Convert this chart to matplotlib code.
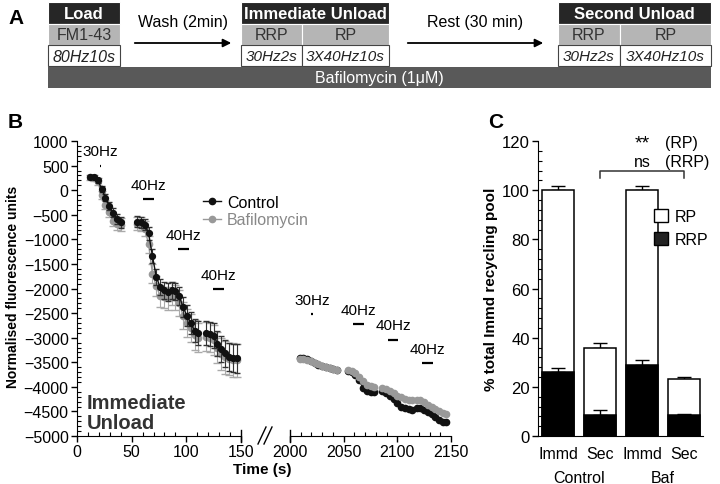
import matplotlib
matplotlib.use('Agg')
import matplotlib.pyplot as plt
from matplotlib.patches import Rectangle, Patch
from matplotlib.lines import Line2D
from matplotlib.ticker import MultipleLocator, AutoMinorLocator
import numpy as np

plt.rcParams['font.family'] = ['Liberation Sans', 'DejaVu Sans']
NARROW = ['Liberation Sans Narrow', 'Liberation Sans', 'DejaVu Sans']

# ---- panel B: immediate unload, one list per imaging segment
imm_t = [[12, 15.5, 19, 22.5, 26, 29.5, 33, 36.5, 40],
         [55, 58.5, 62, 65.5, 69, 72.5, 76, 79.5, 83],
         [86.5, 90, 93.5, 97, 100.5, 104, 107.5, 111],
         [118, 121.5, 125, 128.5, 132, 135.5, 139, 142.5, 146]]
imm_ctrl = [[270, 260, 200, 30, -150, -320, -460, -590, -650],
            [-640, -650, -700, -880, -1340, -1760, -1970, -2040, -2070],
            [-2040, -2060, -2150, -2380, -2550, -2700, -2860, -2900],
            [-2900, -2920, -2960, -3120, -3230, -3320, -3390, -3410, -3420]]
imm_ctrl_err = [[40, 40, 50, 60, 70, 80, 90, 100, 110],
                [110, 110, 120, 130, 150, 160, 170, 170, 180],
                [180, 180, 190, 200, 210, 220, 230, 240],
                [240, 240, 250, 260, 270, 280, 280, 290, 290]]
imm_baf = [[260, 240, 180, -100, -300, -450, -620, -680, -700],
           [-680, -690, -780, -1100, -1700, -1950, -2150, -2180, -2200],
           [-2100, -2180, -2300, -2550, -2700, -2800, -2950, -3000],
           [-2980, -3000, -3050, -3200, -3330, -3400, -3430, -3450, -3460]]
imm_baf_err = [[50, 60, 70, 80, 90, 100, 110, 120, 130],
               [130, 140, 150, 170, 190, 200, 220, 220, 230],
               [240, 250, 260, 270, 280, 290, 300, 300],
               [300, 300, 310, 320, 320, 330, 330, 340, 340]]

# ---- panel B: second unload
sec_t = [[2009, 2012.5, 2016, 2019.5, 2023, 2026.5, 2030, 2033.5, 2037, 2040.5, 2044],
         [2054, 2057.5, 2061, 2064.5, 2068, 2071.5, 2075, 2078.5],
         [2086, 2089.5, 2093, 2096.5, 2100, 2103.5, 2107, 2110.5, 2114],
         [2118, 2121.5, 2125, 2128.5, 2132, 2135.5, 2139, 2142.5, 2145]]
sec_ctrl = [[-3420, -3420, -3440, -3470, -3510, -3550, -3580, -3600, -3620, -3640, -3660],
            [-3670, -3690, -3750, -3870, -4020, -4075, -4100, -4115],
            [-4090, -4130, -4180, -4250, -4330, -4400, -4440, -4460, -4470],
            [-4430, -4440, -4470, -4515, -4560, -4615, -4670, -4710, -4725]]
sec_baf = [[-3430, -3430, -3450, -3475, -3510, -3545, -3580, -3600, -3620, -3640, -3660],
           [-3665, -3680, -3720, -3790, -3890, -3960, -3990, -4005],
           [-4020, -4045, -4085, -4135, -4180, -4215, -4245, -4265, -4275],
           [-4265, -4275, -4310, -4360, -4400, -4445, -4495, -4535, -4550]]

# stimulus markers: (label, start, end, level)
imm_stim = [('30Hz', 21, 22, 500), ('40Hz', 60, 70, -180),
            ('40Hz', 92, 102, -1200), ('40Hz', 124, 134, -2020)]
sec_stim = [('30Hz', 2020, 2021, -2520), ('40Hz', 2059, 2069, -2730),
            ('40Hz', 2091, 2101, -3040), ('40Hz', 2123, 2133, -3520)]

# ---- panel C
groups = ['Control', 'Baf']
conds = ['Immd', 'Sec', 'Immd', 'Sec']
total = [100, 36, 100, 23]
total_err = [1.8, 2.0, 1.8, 1.2]
rrp = [26, 8.5, 29, 8.5]
rrp_err = [1.8, 2.2, 1.9, 0.6]

fig = plt.figure(figsize=(7.2, 4.85), dpi=100)

# ================= panel A (scheme) =================
axA = fig.add_axes([0, 0, 1, 1])
axA.set_xlim(0, 720)
axA.set_ylim(485, 0)
axA.axis('off')

dark = '#262626'
grey = '#b5b5b5'
rows = [(3, 25), (25, 46), (46, 67)]


def cell(x0, x1, y0, y1, fc, text, tc, bold=False, italic=False, size=11.5):
    axA.add_patch(Rectangle((x0, y0), x1 - x0, y1 - y0, facecolor=fc,
                            edgecolor='#444444' if fc == 'white' else 'white', lw=0.8))
    axA.text((x0 + x1) / 2, (y0 + y1) / 2 + 0.5, text, color=tc, ha='center', va='center',
             fontsize=size, family=NARROW, fontweight='bold' if bold else 'normal',
             style='italic' if italic else 'normal')


cell(48, 120, *rows[0], dark, 'Load', 'white', bold=True, size=12)
cell(48, 120, *rows[1], grey, 'FM1-43', '#333333')
cell(48, 120, *rows[2], 'white', '80Hz10s', '#222222', italic=True)
for x0, xs, x1, head in [(241, 302, 389, 'Immediate Unload'), (558, 620, 711, 'Second Unload')]:
    cell(x0, x1, *rows[0], dark, head, 'white', bold=True, size=12)
    cell(x0, xs, *rows[1], grey, 'RRP', '#333333')
    cell(xs, x1, *rows[1], grey, 'RP', '#333333')
    cell(x0, xs, *rows[2], 'white', '30Hz2s', '#222222', italic=True, size=11)
    cell(xs, x1, *rows[2], 'white', '3X40Hz10s', '#222222', italic=True, size=11)
axA.add_patch(Rectangle((48, 68), 663, 21, facecolor='#595959', edgecolor='none'))
axA.text(379, 78.5, 'Bafilomycin (1\u03bcM)', color='white', ha='center', va='center',
         fontsize=11.5, family=NARROW)
for x0, x1, txt in [(132, 234, 'Wash (2min)'), (405, 546, 'Rest (30 min)')]:
    axA.annotate('', xy=(x1, 44), xytext=(x0, 44),
                 arrowprops=dict(arrowstyle='-|>', color='black', lw=1.3, mutation_scale=12))
    axA.text((x0 + x1) / 2, 22, txt, ha='center', va='center', fontsize=11.5, family=NARROW)

fig.text(8 / 720, 1 - 18 / 485, 'A', fontsize=15, fontweight='bold', va='center')
fig.text(8 / 720, 1 - 122 / 485, 'B', fontsize=15, fontweight='bold', va='center')
fig.text(488 / 720, 1 - 122 / 485, 'C', fontsize=15, fontweight='bold', va='center')

# ================= panel B =================
ax1 = fig.add_axes([77 / 720, 1 - 437 / 485, 164 / 720, 295 / 485])
ax2 = fig.add_axes([290 / 720, 1 - 437 / 485, 161 / 720, 295 / 485])

black = '#111111'
gcol = '#999999'
for t, c, ce, b, be in zip(imm_t, imm_ctrl, imm_ctrl_err, imm_baf, imm_baf_err):
    ax1.errorbar(t, b, yerr=be, color=gcol, ecolor='#aaaaaa', marker='o', ms=4.5,
                 lw=1, elinewidth=0.8, capsize=3, zorder=2)
    ax1.errorbar(t, c, yerr=ce, color=black, ecolor='#333333', marker='o', ms=4.2,
                 lw=1, elinewidth=0.8, capsize=2.5, zorder=3)
for t, c, b in zip(sec_t, sec_ctrl, sec_baf):
    ax2.plot(t, c, color=black, marker='o', ms=4.5, lw=1, zorder=2)
    ax2.plot(t, b, color=gcol, marker='o', ms=4.5, lw=1, zorder=3)

for ax, stim in [(ax1, imm_stim), (ax2, sec_stim)]:
    for lab, s0, s1, lev in stim:
        ax.plot([s0, s1], [lev, lev], color='black', lw=1.6, solid_capstyle='butt')
        ax.text((s0 + s1) / 2, lev + 150, lab, ha='center', va='bottom', fontsize=11)

for ax in (ax1, ax2):
    ax.set_ylim(-5000, 1000)
    ax.spines['top'].set_visible(False)
    ax.spines['right'].set_visible(False)
    ax.set_facecolor('none')
    ax.tick_params(labelsize=11.5, length=4, width=1, pad=2)
    ax.tick_params(which='minor', direction='in', length=3, width=0.8)
    ax.xaxis.set_major_locator(MultipleLocator(50))
    ax.xaxis.set_minor_locator(AutoMinorLocator(5))
ax1.set_xlim(0, 150)
ax2.set_xlim(2000, 2150)
ax1.yaxis.set_major_locator(MultipleLocator(500))
ax1.yaxis.set_minor_locator(AutoMinorLocator(5))
ax1.set_ylabel('Normalised fluorescence units', fontsize=10, fontweight='bold')
ax1.yaxis.set_label_coords(-0.35, 0.51)
ax2.spines['left'].set_visible(False)
ax2.set_yticks([])
ax1.plot([150, 150], [-5000 - 120, -5000 + 120], color='black', lw=1, clip_on=False)
ax2.plot([2000, 2000], [-5000 - 120, -5000 + 120], color='black', lw=1, clip_on=False)

ax1.text(9, -4520, 'Immediate\nUnload', fontsize=14.5, fontweight='bold', color='#333333',
         va='center', linespacing=1.1)
ax2.text(3, -4520, 'Second\nUnload', fontsize=14.5, fontweight='bold', color='#333333',
         va='center', linespacing=1.1)

# axis break marks
for dx in (0, 6):
    fig.add_artist(Line2D([(258 + dx) / 720, (266 + dx) / 720],
                          [1 - 445 / 485, 1 - 428 / 485], color='black', lw=1))
fig.text(262 / 720, 1 - 470 / 485, 'Time (s)', ha='center', va='center',
         fontsize=11, fontweight='bold')

hands = [Line2D([], [], color=black, marker='o', ms=4.5, lw=1),
         Line2D([], [], color=gcol, marker='o', ms=4.5, lw=1)]
leg = fig.legend(hands, ['Control', 'Bafilomycin'], loc='upper left',
                 bbox_to_anchor=(203 / 720, 1 - 196 / 485), frameon=False,
                 fontsize=11.5, handlelength=1.1, handletextpad=0.4, labelspacing=0.15,
                 borderaxespad=0, borderpad=0)
leg.get_texts()[1].set_color('#888888')

# ================= panel C =================
axC = fig.add_axes([538 / 720, 1 - 437 / 485, 165 / 720, 295 / 485])
x = np.arange(len(conds))
axC.bar(x, total, width=0.77, color='white', edgecolor='black', lw=1.1, zorder=2)
axC.bar(x, rrp, width=0.77, color='black', edgecolor='black', lw=1.1, zorder=3)
axC.errorbar(x, total, yerr=[np.zeros(4), total_err], fmt='none', ecolor='black',
             elinewidth=1, capsize=5, capthick=1, zorder=1)
axC.errorbar(x, rrp, yerr=[np.zeros(4), rrp_err], fmt='none', ecolor='black',
             elinewidth=1, capsize=5, capthick=1, zorder=4)
axC.set_xlim(-0.48, 3.45)
axC.set_ylim(0, 120)
axC.yaxis.set_major_locator(MultipleLocator(20))
axC.yaxis.set_minor_locator(AutoMinorLocator(5))
axC.spines['top'].set_visible(False)
axC.spines['right'].set_visible(False)
axC.tick_params(labelsize=12, length=4, width=1, pad=2)
axC.tick_params(which='minor', direction='in', length=3, width=0.8)
axC.set_xticks(x)
axC.set_xticklabels(conds, fontsize=11.5)
axC.tick_params(axis='x', length=0, pad=7)
for i, g in enumerate(groups):
    axC.text(2 * i + 0.5, -0.115, g, transform=axC.get_xaxis_transform(),
             ha='center', va='top', fontsize=11.5)
axC.set_ylabel('% total Immd recycling pool', fontsize=11, fontweight='bold', labelpad=3)

axC.plot([1, 1, 3, 3], [105, 108, 108, 105], color='#333333', lw=1.1, clip_on=False)
axC.text(2.0, 119.0, '**', ha='center', va='center', fontsize=14)
axC.text(2.0, 111.5, 'ns', ha='center', va='center', fontsize=11.5)
axC.text(2.55, 119.5, '(RP)', ha='left', va='center', fontsize=11.5)
axC.text(2.55, 111.5, '(RRP)', ha='left', va='center', fontsize=11.5)
axC.legend([Patch(facecolor='white', edgecolor='black'), Patch(facecolor='#222222', edgecolor='black')],
           ['RP', 'RRP'], loc='upper left', bbox_to_anchor=(0.7, 0.77), frameon=False,
           fontsize=11.5, handlelength=0.9, handleheight=0.9, handletextpad=0.4, labelspacing=0.5,
           borderaxespad=0, borderpad=0)

fig.savefig('out.png', dpi=100)
